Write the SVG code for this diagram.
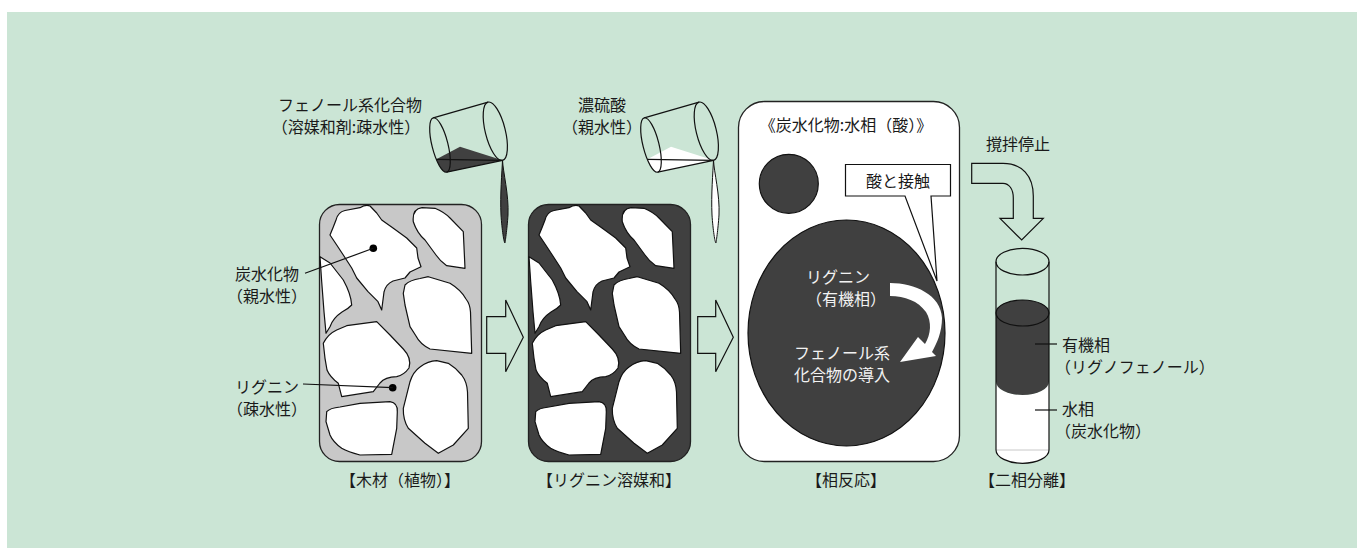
<svg xmlns="http://www.w3.org/2000/svg" xmlns:xlink="http://www.w3.org/1999/xlink" width="1357" height="548" viewBox="0 0 1357 548">
  <style>
    text { font-family: "Noto Sans CJK JP", "Noto Sans", sans-serif; font-size: 16px; fill: #1a1a1a; }
    .mid { text-anchor: middle; }
    .inv { fill: #f2f2f2; }
    .ln { fill: none; stroke: #111; stroke-width: 1.2; }
    .cell { fill: #fff; stroke: #111; stroke-width: 1.2; stroke-linejoin: round; }
    .hollow { fill: #cbe5d5; stroke: #111; stroke-width: 1.2; stroke-linejoin: miter; }
    .dark { fill: #404040; }
  </style>
  <defs>
    <!-- wood cross-section: cellulose cells -->
    <g id="cells">
      <path class="cell" d="M330,235 Q333,228 336,220 Q338,212 345,210.5 L360,207.7 Q366,204 370,206 L376.7,213 L381.7,220 L393,228 L406.7,238 L416.7,248 L418,258 L421,266.7 L410,272 L405,278 L393,281 Q386,284 384,292 L381.7,310 L378,301.7 L368,291.7 L356.7,278 L351.7,268 L343.3,255 L336.7,245 Z"/>
      <path class="cell" d="M413.3,221.7 Q412,209 422,207.7 L435,208.3 Q444,212 450,218 L463.3,231.7 L465,268.3 L446.7,265.7 Q440,261 436,255 L425,240 Q417,233 413.3,221.7 Z"/>
      <path class="cell" d="M320,256.7 L330,263 L343.3,280 Q351,294 351.7,305 Q348,309 342,312 Q333,318 330,326.7 L326,333.3 L324,311.7 L321.7,281.7 Z"/>
      <path class="cell" d="M405,285 Q410,280 420,278.5 L428.3,276.7 L450,283.3 Q461,290 466,299 Q470,304 470.5,312 L471.7,353.3 L430,349 Q420,344 416,336 L410,326.7 L405,305 L403.3,293.3 Z"/>
      <path class="cell" d="M323.3,343.3 Q328,334 336.7,330 L346.7,325.7 L376.7,321.7 L390,335 L403.3,349 Q412,358 409,368 Q404,375 396.7,376.7 Q385,377 380,383 L373.3,391.7 L341.7,396.7 L338.3,383.3 Q330,377 327,370 L325,358.3 Z"/>
      <path class="cell" d="M403.3,408.3 L410,381.7 Q413,372 420,367 Q428,361 436.7,360.7 L448.3,363.3 Q456,368 461.7,375 Q467,382 467.5,392 L468.3,428.3 L453.3,445 L438.3,453.3 L425,443.3 L408.3,428.3 Q403,420 403.3,408.3 Z"/>
      <path class="cell" d="M326.7,411.7 Q330,408 340,407 L360,403.3 L390,401.7 Q398,403 397.3,412 L396.7,428.3 L391.7,454.3 L360,455 Q348,452 341.7,448.3 Q333,442 330,435 L326,421.7 Z"/>
    </g>
    <!-- tilted beaker outline, local frame: bottom ellipse at origin, mouth at x=57 -->
    <g id="cup">
      <ellipse class="ln" cx="0" cy="0" rx="8" ry="28"/>
      <ellipse class="ln" cx="57" cy="0" rx="10" ry="30"/>
      <line class="ln" x1="0" y1="-28" x2="57" y2="-30"/>
      <line class="ln" x1="0" y1="28" x2="57" y2="30"/>
      <line class="ln" x1="-7" y1="13" x2="57" y2="30"/>
    </g>
  </defs>

  <rect x="7" y="12" width="1350" height="536" fill="#cbe5d5"/>

  <!-- step 1: wood -->
  <g id="wood">
    <rect x="319.5" y="204.5" width="162" height="257" rx="20" fill="#c8c8c8" stroke="#222" stroke-width="1.3"/>
    <use xlink:href="#cells"/>
    <circle cx="373.3" cy="248.3" r="3.8" fill="#000"/>
    <circle cx="392.7" cy="387.7" r="3.8" fill="#000"/>
    <text class="mid" x="400" y="486">【木材（植物）】</text>
  </g>

  <g id="label-carbohydrate">
    <text class="mid" x="267" y="280">炭水化物</text>
    <text class="mid" x="267" y="302">（親水性）</text>
  </g>
  <g id="label-lignin">
    <text class="mid" x="267" y="393">リグニン</text>
    <text class="mid" x="267" y="415">（疎水性）</text>
  </g>

  <!-- phenol beaker -->
  <g id="beaker-phenol">
    <g transform="translate(440,145) rotate(-14)">
      <path class="dark" d="M-7,13 L19,6.5 L57,30 L0,28 A8 28 0 0 1 -7,13 Z"/>
      <use xlink:href="#cup"/>
    </g>
    <path d="M502.5,160 C503,172 509,195 508,215 C507,230 505,243 505,243 C504,243 502,230 501,215 C500,195 502,172 502.5,160 Z" fill="#404040" stroke="#111" stroke-width="1"/>
    <text class="mid" x="350" y="111">フェノール系化合物</text>
    <text class="mid" x="346" y="133">（溶媒和剤:疎水性）</text>
  </g>

  <!-- step 2: solvated lignin -->
  <g id="solvated">
    <rect x="528.5" y="204.5" width="162" height="257" rx="20" fill="#404040" stroke="#222" stroke-width="1.3"/>
    <use xlink:href="#cells" transform="translate(209,0)"/>
    <text class="mid" x="609" y="486">【リグニン溶媒和】</text>
  </g>

  <!-- sulfuric acid beaker -->
  <g id="beaker-acid">
    <g transform="translate(651,145) rotate(-14)">
      <path d="M-7,13 L19,6.5 L57,30 L0,28 A8 28 0 0 1 -7,13 Z" fill="#fff"/>
      <use xlink:href="#cup"/>
    </g>
    <path d="M713.5,160 C714,172 720,195 719,215 C718,230 716,243 716,243 C715,243 713,230 712,215 C711,195 713,172 713.5,160 Z" fill="#fff" stroke="#111" stroke-width="1"/>
    <text class="mid" x="602" y="111">濃硫酸</text>
    <text class="mid" x="602" y="133">（親水性）</text>
  </g>

  <!-- step 3: phase reaction -->
  <g id="reaction">
    <rect x="738.5" y="101.5" width="221" height="360" rx="26" fill="#fff" stroke="#222" stroke-width="1.3"/>
    <text class="mid" x="846" y="131" font-size="16.5">《炭水化物:水相（酸）》</text>
    <circle cx="788.8" cy="183.8" r="29.5" fill="#404040" stroke="#111" stroke-width="1.2"/>
    <ellipse cx="846.5" cy="333" rx="98.5" ry="113" fill="#404040" stroke="#111" stroke-width="1.2"/>
    <path d="M845.5,164.5 H950.5 V196 H931 L937,281 L905,196 H845.5 Z" fill="#fff" stroke="#111" stroke-width="1.2" stroke-linejoin="miter"/>
    <text class="mid" x="898" y="187">酸と接触</text>
    <path d="M890,283 C915,283 941,295 942,318 C942,332 937,343 932,352 L936,356 L900,362 L918,337 L925,344 C931,334 932,322 926,312 C918,301 905,296 890,296 Z" fill="#fff"/>
    <text class="mid inv" x="838" y="283">リグニン</text>
    <text class="mid inv" x="846" y="305">（有機相）</text>
    <text class="mid inv" x="842" y="359">フェノール系</text>
    <text class="mid inv" x="842" y="381">化合物の導入</text>
    <text class="mid" x="846" y="486">【相反応】</text>
  </g>

  <!-- step 4: phase separation -->
  <g id="separation">
    <text class="mid" x="1018" y="150">撹拌停止</text>
    <path class="hollow" d="M971.7,163.3 H1003 C1022,163.3 1033.3,176 1033.3,196 V218.3 H1043.3 L1021.7,240 L1000,218.3 H1013.3 V198 C1013.3,189 1009,183.3 1003,183.3 H971.7 Z"/>
    <path d="M996,381.7 A26.5 13.3 0 0 0 1049,381.7 V450 A26.5 13.3 0 0 1 996,450 Z" fill="#fff"/>
    <line x1="996" y1="450" x2="1049" y2="450" stroke="#c8c8c8" stroke-width="1"/>
    <path class="dark" d="M996,313 V381.7 A26.5 13.3 0 0 0 1049,381.7 V313 Z"/>
    <ellipse cx="1022.5" cy="313" rx="26.5" ry="13" fill="#404040" stroke="#111" stroke-width="1.2"/>
    <ellipse class="ln" cx="1022.5" cy="261.7" rx="26.5" ry="13.3"/>
    <path class="ln" d="M996,261.7 V450 A26.5 13.3 0 0 0 1049,450 V261.7"/>
    <text class="mid" x="1027" y="486">【二相分離】</text>
  </g>

  <g id="label-organic">
    <text x="1062" y="351">有機相</text>
    <text x="1055" y="373">（リグノフェノール）</text>
  </g>
  <g id="label-aqueous">
    <text x="1062" y="415">水相</text>
    <text x="1055" y="437">（炭水化物）</text>
  </g>

  <!-- connectors: leader lines and step arrows -->
  <g id="connectors">
    <polyline class="ln" points="305,273.3 373.3,248.3"/>
    <polyline class="ln" points="303,384 392.7,387.7"/>
    <line class="ln" x1="1035" y1="344" x2="1057" y2="344"/>
    <line class="ln" x1="1035" y1="410" x2="1057" y2="410"/>
    <path class="hollow" d="M486.7,316.7 H505.7 V300 L523.3,337.3 L505.7,371.7 V353.3 H486.7 Z"/>
    <path class="hollow" d="M697.7,316.7 H715.7 V300 L733.3,337.3 L715.7,371.7 V353.3 H697.7 Z"/>
  </g>
</svg>
